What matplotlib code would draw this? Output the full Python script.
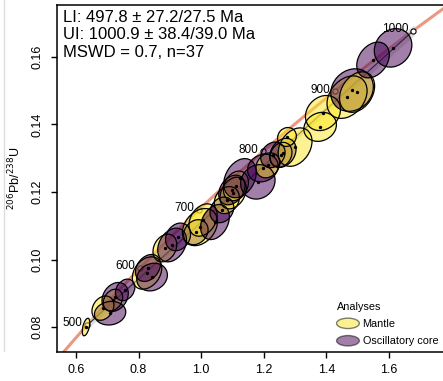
import matplotlib
import matplotlib.pyplot as plt
import matplotlib.patches as mpatches
from matplotlib.legend_handler import HandlerPatch
from matplotlib.lines import Line2D
import numpy as np

matplotlib.rc('font', family='Liberation Sans', size=9)

# U-Pb analyses: 207Pb/235U (x), 206Pb/238U (y), half-widths of error ellipse, correlation
x = [0.632, 0.709, 0.686, 0.718, 0.725, 0.757, 0.827, 0.843, 0.830, 0.884,
     0.907, 0.926, 0.983, 0.996, 1.006, 1.044, 1.066, 1.082, 1.102, 1.098,
     1.111, 1.124, 1.181, 1.197, 1.213, 1.229, 1.255, 1.261, 1.300, 1.274,
     1.380, 1.389, 1.466, 1.482, 1.498, 1.549, 1.613]
sx = [0.012, 0.050, 0.035, 0.031, 0.042, 0.031, 0.047, 0.049, 0.040, 0.038,
      0.046, 0.040, 0.039, 0.056, 0.045, 0.046, 0.038, 0.040, 0.042, 0.042,
      0.040, 0.052, 0.055, 0.049, 0.038, 0.039, 0.035, 0.042, 0.054, 0.030,
      0.052, 0.056, 0.064, 0.068, 0.056, 0.052, 0.060]
y = [0.0800, 0.0841, 0.0856, 0.0880, 0.0889, 0.0910, 0.0960, 0.0948, 0.0975, 0.1034,
     0.1043, 0.1067, 0.1081, 0.1096, 0.1117, 0.1111, 0.1147, 0.1176, 0.1197, 0.1206,
     0.1218, 0.1241, 0.1230, 0.1271, 0.1279, 0.1310, 0.1310, 0.1316, 0.1333, 0.1363,
     0.1393, 0.1434, 0.1481, 0.1502, 0.1496, 0.1591, 0.1627]
sy = [0.0026, 0.0035, 0.0036, 0.0032, 0.0043, 0.0032, 0.0048, 0.0041, 0.0040, 0.0041,
      0.0050, 0.0041, 0.0037, 0.0055, 0.0048, 0.0052, 0.0038, 0.0040, 0.0047, 0.0044,
      0.0044, 0.0058, 0.0051, 0.0041, 0.0037, 0.0038, 0.0037, 0.0043, 0.0057, 0.0028,
      0.0043, 0.0052, 0.0063, 0.0063, 0.0060, 0.0053, 0.0057]
rho = [0.5, 0.1, 0.25, 0.25, 0.25, 0.25, 0.3, 0.15, 0.3, 0.25,
       0.3, 0.2, 0.2, 0.3, 0.3, 0.3, 0.2, 0.2, 0.3, 0.3,
       0.25, 0.3, 0.1, 0.15, 0.2, 0.2, 0.2, 0.25, 0.3, 0.1,
       0.15, 0.2, 0.3, 0.15, 0.3, 0.3, 0.15]
group = ['M', 'O', 'M', 'M', 'O', 'O', 'M', 'O', 'O', 'M',
         'O', 'O', 'O', 'M', 'M', 'O', 'O', 'M', 'M', 'O',
         'M', 'O', 'O', 'O', 'M', 'O', 'M', 'O', 'M', 'M',
         'M', 'M', 'M', 'O', 'M', 'O', 'O']

labels = {'M': 'Mantle', 'O': 'Oscillatory core'}
colours = {'M': '#FDE725', 'O': '#440154'}

marker_ages = [500, 600, 700, 800, 900, 1000]
lower_int = 497.8
upper_int = 1000.9

l238 = 1.55125e-4   # per Myr
l235 = 9.8485e-4


def concordia(t):
    t = np.asarray(t, dtype=float)
    return np.exp(l235 * t) - 1, np.exp(l238 * t) - 1


fig = plt.figure(figsize=(4.43, 3.81), dpi=100)
ax = fig.add_axes([57/443, 29/381, 386/443, 347/381])

# concordia
tt = np.linspace(350, 1150, 400)
cx, cy = concordia(tt)
ax.plot(cx, cy, color='#EA9880', lw=2.2, zorder=1, solid_capstyle='butt')

# discordia with light envelope
dx, dy = concordia([lower_int, upper_int])
xs = np.linspace(dx[0], dx[1], 50)
ys = dy[0] + (xs - dx[0]) * (dy[1] - dy[0]) / (dx[1] - dx[0])
spread = 0.0012 * np.abs(xs - 1.05) / 0.6 + 0.0004
ax.fill_between(xs, ys - spread, ys + spread, color='#cccccc', alpha=0.6, lw=0, zorder=1.5)
ax.plot(xs, ys, color='#333333', lw=0.8, zorder=1.6)

# error ellipses
for xi, sxi, yi, syi, r, g in zip(x, sx, y, sy, rho, group):
    cov = np.array([[sxi**2, r*sxi*syi], [r*sxi*syi, syi**2]])
    vals, vecs = np.linalg.eigh(cov)
    ang = np.degrees(np.arctan2(vecs[1, 1], vecs[0, 1]))
    e = mpatches.Ellipse((xi, yi), 2*np.sqrt(vals[1]), 2*np.sqrt(vals[0]), angle=ang,
                         facecolor=colours[g], alpha=0.5, edgecolor='none', zorder=2)
    ax.add_patch(e)
    e2 = mpatches.Ellipse((xi, yi), 2*np.sqrt(vals[1]), 2*np.sqrt(vals[0]), angle=ang,
                          facecolor='none', edgecolor='black', lw=0.9, zorder=2.1)
    ax.add_patch(e2)
ax.scatter(x, y, s=2, color='black', zorder=3)

# age markers
mx, my = concordia(marker_ages)
ax.scatter(mx, my, s=14, facecolor='white', edgecolor='black', lw=0.8, zorder=1.8)
for a, xm, ym in zip(marker_ages, mx, my):
    ax.annotate(str(a), (xm, ym), xytext=(-3.5, 1), textcoords='offset points',
                ha='right', va='center', fontsize=8.5, zorder=4)

ax.text(0.015, 0.965, 'LI: 497.8 \u00b1 27.2/27.5 Ma', transform=ax.transAxes,
        fontsize=12, va='center')
ax.text(0.015, 0.915, 'UI: 1000.9 \u00b1 38.4/39.0 Ma', transform=ax.transAxes,
        fontsize=12, va='center')
ax.text(0.015, 0.864, 'MSWD = 0.7, n=37', transform=ax.transAxes,
        fontsize=12, va='center')

ax.set_xlim(0.5393, 0.6 + (443 - 76) / 313)
ax.set_ylim(0.0726, 0.1754)
ax.set_xticks([0.6, 0.8, 1.0, 1.2, 1.4, 1.6])
ax.set_yticks([0.08, 0.10, 0.12, 0.14, 0.16])
ax.set_xticklabels(['0.6', '0.8', '1.0', '1.2', '1.4', '1.6'])
ax.set_yticklabels(['0.08', '0.10', '0.12', '0.14', '0.16'], rotation=90, va='center')
ax.tick_params(direction='out', length=4.5, width=1, labelsize=9)
ax.tick_params(axis='x', pad=4)
ax.tick_params(axis='y', pad=5)
ax.spines['right'].set_visible(False)
for s in ['left', 'bottom', 'top']:
    ax.spines[s].set_linewidth(1.1)
ax.set_ylabel(r'$^{206}$Pb/$^{238}$U', fontsize=9, labelpad=6)


def make_ellipse(legend, orig_handle, xdescent, ydescent, width, height, fontsize):
    return mpatches.Ellipse((0.5*width - xdescent, 0.5*height - ydescent), width, height)


handles = [mpatches.Patch(facecolor=colours[k], alpha=0.5, edgecolor='black', lw=1)
           for k in ['M', 'O']]
leg = ax.legend(handles, [labels['M'], labels['O']], title='Analyses', loc='lower left',
                bbox_to_anchor=(329/443, 27/381), bbox_transform=fig.transFigure,
                frameon=False, fontsize=7.8, title_fontsize=7.8, handlelength=2.1,
                handleheight=1.1, handletextpad=0.3, labelspacing=0.6, borderpad=0.2,
                alignment='left', handler_map={mpatches.Patch: HandlerPatch(patch_func=make_ellipse)})
for h in leg.legend_handles:
    h.set_edgecolor('black')

fig.add_artist(Line2D([4/443, 4/443], [30/381, 1], color='#dddddd', lw=1))

fig.savefig('out.png', dpi=100)
